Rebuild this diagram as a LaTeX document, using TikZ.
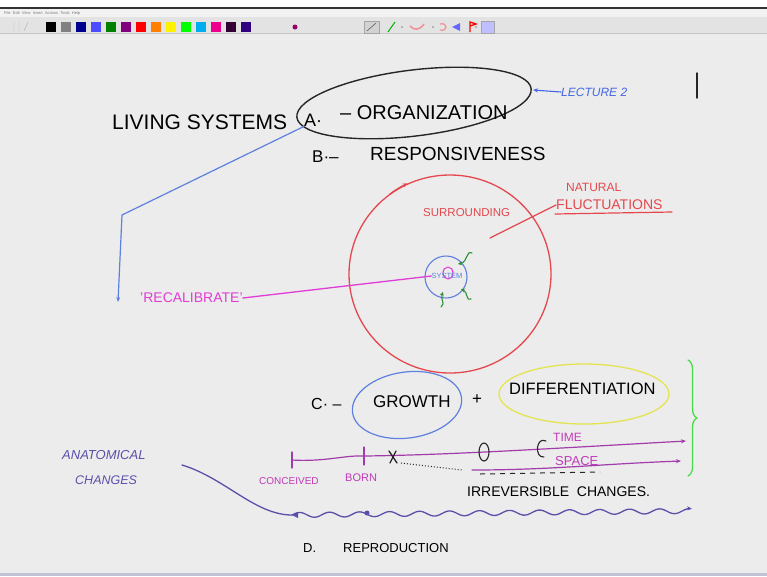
\documentclass[tikz,border=0pt]{standalone}
\usepackage{fontspec}
\setmainfont{Liberation Sans}
\usetikzlibrary{arrows.meta,decorations.pathreplacing,positioning}
\definecolor{board}{HTML}{ECECEC}
\definecolor{ink}{HTML}{262626}
\definecolor{pen blue}{HTML}{5E80DE}
\definecolor{lect blue}{HTML}{4466E6}
\definecolor{pen red}{HTML}{E4484E}
\definecolor{pen magenta}{HTML}{E03CD6}
\definecolor{pen green}{HTML}{2F8F35}
\definecolor{brace green}{HTML}{48DC48}
\definecolor{pen yellow}{HTML}{E4E452}
\definecolor{pen purple}{HTML}{A23CAA}
\definecolor{pen violet}{HTML}{C03AB8}
\definecolor{pen indigo}{HTML}{5A50AA}
\tikzset{
  txt/.style={inner sep=0pt,anchor=west},
  pen/.style={line width=1.4pt,line cap=round,line join=round},
  tip/.style={-{Stealth[length=5pt,width=4pt]}}
}
\newcommand{\fs}[1]{\fontsize{#1}{#1}\selectfont}
\begin{document}
\begin{tikzpicture}[x=1pt,y=-1pt]
\useasboundingbox (0,0) rectangle (767,576);
\fill[board] (0,0) rectangle (767,576);
% window bars
\fill[white] (0,0) rectangle (767,7);
\fill[black!80] (0,7) rectangle (767,8.5);
\fill[gray!10] (0,8.5) rectangle (767,17);
\fill[gray!22] (0,17) rectangle (767,33);
\draw[gray!45] (0,33) -- (767,33);
\node[txt,text=gray] (menu) at (4,13) {\fs{4}File\ \ Edit\ \ View\ \ Insert\ \ Actions\ \ Tools\ \ Help};
\foreach \c [count=\i] in {black,gray,blue!55!black,blue!70!white,green!50!black,violet,red,orange,yellow,green,cyan,magenta,violet!40!black,blue!45!violet!70!black}
  \fill[\c] ({46+15*(\i-1)},22) rectangle +(10,10);
\draw[gray!60] (14,22) -- (14,31) (19,22) -- (19,31) (24,31) -- (28,22);
\fill[red!60!blue] (295,27) circle [radius=2.5];
\draw[gray!70,fill=gray!35] (364,21) rectangle (379,33);
\draw[gray!40!black] (367,31) -- (376,23);
\draw[green!70!black,line width=1pt] (388,32) -- (395,22);
\fill[gray] (402,27) circle [radius=0.8] (433,27) circle [radius=0.8] (476,27) circle [radius=0.8];
\draw[pen red!60!white,line width=1.5pt] (410,26) .. controls (414,31) and (420,30) .. (424,24);
\draw[pen red!60!white,line width=1.2pt] (440,24) .. controls (448,22) and (448,32) .. (440,30);
\fill[blue!60] (452,27) -- (460,23) -- (460,31) -- cycle;
\draw[red,line width=1.3pt] (470,32) -- (470,22) -- (476,24) -- (470,26);
\draw[gray!70,fill=blue!25] (481,21) rectangle (494,33);
\fill[blue!20!gray!40] (0,573) rectangle (767,576);

% A - organization
\node[txt] (living) at (112,122) {\fs{21}LIVING\ SYSTEMS};
\draw[pen,ink,rotate around={7:(414,103)}] (414,103) ellipse [x radius=118,y radius=33];
\node[txt] (A) at (304,120) {\fs{18}A·};
\node[txt] (org) at (340,113) {\fs{20}– ORGANIZATION};
\coordinate (ellR) at (533,90);
\node[txt,text=lect blue] (lec) at (561,92) {\fs{12}\itshape LECTURE 2};
\draw[pen,lect blue,line width=1.1pt,tip] (lec.west) -- (ellR);
\draw[pen,ink] (697,73) -- (697,98);

% B - responsiveness
\node[txt] (B) at (312,157) {\fs{17}B·–};
\node[txt] (resp) at (370,154) {\fs{19}RESPONSIVENESS};
\coordinate (bend) at (122,215);
\draw[pen,pen blue,line width=1.2pt,tip] (A.south west) -- (bend) -- (118,302);

% surroundings and system
\draw[pen,pen red,line width=1.3pt] (450,274) ellipse [x radius=101,y radius=99];
\draw[pen red,line width=1.3pt,tip] (450,274) ++(-127:100) arc[start angle=-127,end angle=-115,radius=100];
\node[txt,text=pen red] (surr) at (423,213) {\fs{11.5}SURROUNDING};
\node[txt,text=pen red] (nat) at (566,187) {\fs{12}NATURAL};
\node[txt,text=pen red] (fluc) at (556,205) {\fs{14}FLUCTUATIONS};
\draw[pen,pen red,line width=1.2pt] (555,214) -- (672,212);
\draw[pen,pen red,line width=1.2pt] (fluc.west) -- (490,238);
\draw[pen,pen blue,line width=1.1pt] (446,277) circle [radius=21];
\draw[pen,pen magenta,line width=1.1pt] (448,273) ellipse [x radius=5,y radius=6];
\node[text=pen blue,inner sep=0pt] (sys) at (447,276) {\fs{7.5}SYSTEM};
\node[txt,text=pen magenta] (recal) at (140,298) {\fs{14}'RECALIBRATE'};
\draw[pen,pen magenta,line width=1.3pt] (recal.east) -- (sys.west);
\draw[pen,pen green,line width=1.1pt,-{Stealth[length=4pt,width=4pt]}] (472,253) .. controls (466,250) and (468,262) .. (458,264);
\draw[pen,pen green,line width=1.1pt,-{Stealth[length=4pt,width=4pt]}] (471,299) .. controls (466,302) and (468,292) .. (461,289);
\draw[pen,pen green,line width=1.1pt,-{Stealth[length=4pt,width=4pt]}] (441,307) .. controls (446,303) and (440,300) .. (443,292);

% C - growth and differentiation
\node[txt] (C) at (311,404) {\fs{16}C· –};
\draw[pen,pen blue,line width=1.2pt,rotate around={8:(407,405)}] (407,405) ellipse [x radius=55,y radius=33];
\node[txt] (growth) at (373,402) {\fs{17}GROWTH};
\node[txt] (plus) at (472,400) {\fs{17}+};
\draw[pen,pen yellow,line width=1.3pt] (584,394) ellipse [x radius=85,y radius=30];
\node[txt] (diff) at (509,389) {\fs{16.5}DIFFERENTIATION};
\draw[pen,brace green,line width=1.3pt,decorate,decoration={brace,amplitude=9pt}] (688,360) -- (688,476);

% timeline
\coordinate (conceived) at (292,460);
\coordinate (born) at (364,456);
\draw[pen,pen purple,line width=1.2pt] (292,452) -- (292,468);
\draw[pen,pen purple,line width=1.2pt] (364,447) -- (364,465);
\draw[pen,pen purple,line width=1.2pt,tip] (conceived) .. controls (325,462) and (345,455) .. (born)
  .. controls (450,455) and (560,448) .. (686,441);
\draw[pen,pen purple,line width=1.2pt,tip] (472,470) .. controls (550,470) and (600,464) .. (681,461);
\draw[pen,ink,line width=1.3pt] (389,451) -- (397,463) (396,451) -- (390,463);
\draw[ink,line width=1pt,dotted] (401,463) -- (462,470);
\draw[ink,line width=1pt,dash pattern=on 5pt off 5pt] (480,474) -- (600,472);
\draw[pen,ink,line width=1.1pt] (484,452) ellipse [x radius=5,y radius=9];
\draw[pen,ink,line width=1.1pt] (546,441) .. controls (536,436) and (534,458) .. (544,457);
\node[txt,text=pen violet] (time) at (553,437) {\fs{12}TIME};
\node[txt,text=pen violet] (space) at (555,461) {\fs{13}SPACE};
\node[txt,text=pen violet] (conc) at (259,481) {\fs{10}CONCEIVED};
\node[txt,text=pen violet] (bornlbl) at (345,478) {\fs{11}BORN};
\node[txt] (irrev) at (467,492) {\fs{14}IRREVERSIBLE\ \ CHANGES.};

% anatomical changes
\node[txt,text=pen indigo] (anat) at (62,455) {\fs{13}\itshape ANATOMICAL};
\node[txt,text=pen indigo] (chg) at (75,480) {\fs{12.5}\itshape CHANGES};
\draw[pen,pen indigo,line width=1.3pt] (182,465) .. controls (225,478) and (255,515) .. (292,515);
\draw[pen,pen indigo,line width=1.3pt,tip] plot[domain=292:692,samples=160] (\x,{515-0.01*(\x-292)-2.5*sin(12*(\x-292))});
\fill[pen indigo] (292,515) -- (298,512) -- (298,518) -- cycle;
\fill[pen indigo] (367,513) circle [radius=2.5];

% D - reproduction
\node[txt] (D) at (303,548) {\fs{13}D.};
\node[txt] (repro) at (343,548) {\fs{13}REPRODUCTION};
\end{tikzpicture}
\end{document}
